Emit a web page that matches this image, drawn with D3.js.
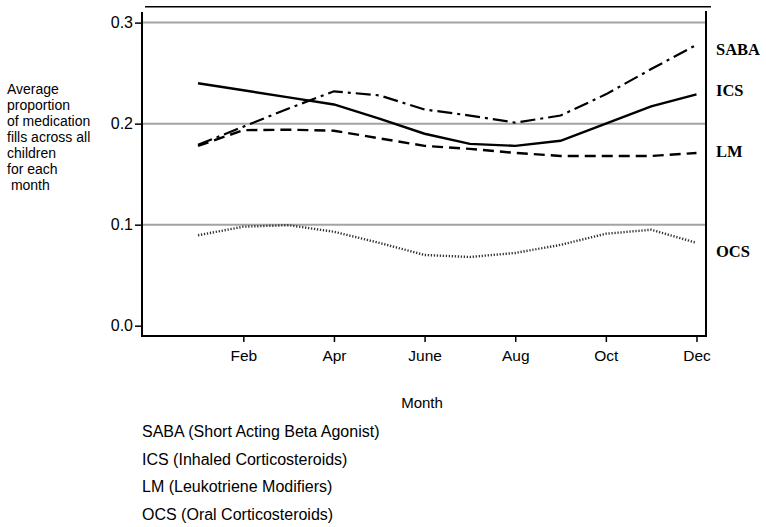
<!DOCTYPE html>
<html><head><meta charset="utf-8">
<script src="https://cdn.jsdelivr.net/npm/d3@7"></script>
<style>body{margin:0;background:#fff}svg{display:block}</style>
</head><body>
<svg id="c" width="766" height="527"></svg>
<script>
const months = [1,2,3,4,5,6,7,8,9,10,11,12];
const monthTicks = [2,4,6,8,10,12];
const monthTickLabels = ["Feb","Apr","June","Aug","Oct","Dec"];
const yTicks = [0,0.1,0.2,0.3];
const gridValues = [0.1,0.2,0.3];
const seriesNames = ["SABA","ICS","LM","OCS"];
const saba = [0.179,0.197,0.215,0.232,0.228,0.214,0.208,0.201,0.208,0.229,0.254,0.278];
const ics  = [0.240,0.233,0.226,0.219,0.205,0.190,0.180,0.178,0.183,0.200,0.217,0.229];
const lm   = [0.178,0.1935,0.194,0.193,0.1855,0.178,0.175,0.171,0.168,0.168,0.168,0.171];
const ocs  = [0.0895,0.098,0.0995,0.093,0.082,0.070,0.068,0.072,0.080,0.091,0.095,0.082];
const legendLines = ["SABA (Short Acting Beta Agonist)","ICS (Inhaled Corticosteroids)","LM (Leukotriene Modifiers)","OCS (Oral Corticosteroids)"];
const yTitleLines = ["Average","proportion","of medication","fills across all","children","for each","\u00a0month"];

const svg = d3.select("#c");
const x = d3.scaleLinear().domain([-0.236,12.21]).range([142,706]);
const y = d3.scaleLinear().domain([-0.0102,0.3105]).range([336,12]);
const sans = "'Liberation Sans', Arial, sans-serif";
const serif = "'Liberation Serif', 'Times New Roman', serif";

// gridlines
svg.append("g").selectAll("line").data(gridValues).join("line")
  .attr("x1", x.range()[0]).attr("x2", x.range()[1])
  .attr("y1", d=>y(d)).attr("y2", d=>y(d))
  .attr("stroke","#a3a3a3").attr("stroke-width",2);

// top line
svg.append("line").attr("x1",145).attr("x2",711).attr("y1",6.7).attr("y2",6.7)
  .attr("stroke","#000").attr("stroke-width",1.6);

// axes
const yAxis = svg.append("g").attr("transform",`translate(${x.range()[0]},0)`)
  .call(d3.axisLeft(y).tickValues(yTicks).tickFormat(d3.format(".1f")).tickSize(7).tickPadding(2));
yAxis.select(".domain").remove();
yAxis.selectAll("line").attr("stroke","#000").attr("stroke-width",1.5);
yAxis.selectAll("text").attr("font-family",sans).attr("font-size",16).attr("fill","#000");

const xAxis = svg.append("g").attr("transform",`translate(0,${y.range()[0]})`)
  .call(d3.axisBottom(x).tickValues(monthTicks).tickFormat((d,i)=>monthTickLabels[i]).tickSize(6).tickPadding(8));
xAxis.select(".domain").remove();
xAxis.selectAll("line").attr("stroke","#000").attr("stroke-width",1.5);
xAxis.selectAll("text").attr("font-family",sans).attr("font-size",15.5).attr("fill","#000");

// frame lines (left, bottom, right)
svg.append("path")
  .attr("d",`M${x.range()[0]},${y.range()[1]}V${y.range()[0]}H${x.range()[1]}V${y.range()[1]-1}`)
  .attr("fill","none").attr("stroke","#000").attr("stroke-width",2);

// series
const line = d3.line().x((d,i)=>x(months[i])).y(d=>y(d)).curve(d3.curveLinear);
const styles = [
  {data:saba, dash:"15,5,3,5", w:2.2, c:"#000"},
  {data:ics,  dash:null, w:2.4, c:"#000"},
  {data:lm,   dash:"11,6", w:2.4, c:"#000"},
  {data:ocs,  dash:"1.3,1.7", w:2.4, c:"#333"}
];
styles.forEach(s=>{
  svg.append("path").datum(s.data).attr("d",line)
    .attr("fill","none").attr("stroke",s.c).attr("stroke-width",s.w)
    .attr("stroke-dasharray",s.dash);
});

// right labels
const labelY = [55,95.7,156.7,257.3];
svg.append("g").selectAll("text").data(seriesNames).join("text")
  .attr("x",716).attr("y",(d,i)=>labelY[i])
  .attr("font-family",serif).attr("font-weight","bold").attr("font-size",16.5).attr("fill","#000")
  .text(d=>d);

// y title
svg.append("g").selectAll("text").data(yTitleLines).join("text")
  .attr("x",7).attr("y",(d,i)=>94+i*16)
  .attr("font-family",sans).attr("font-size",14).attr("fill","#000")
  .text(d=>d);

// x title
svg.append("text").attr("x",422).attr("y",408).attr("text-anchor","middle")
  .attr("font-family",sans).attr("font-size",15).attr("fill","#000").text("Month");

// legend text
svg.append("g").selectAll("text").data(legendLines).join("text")
  .attr("x",142).attr("y",(d,i)=>437+i*27.7)
  .attr("font-family",sans).attr("font-size",16).attr("fill","#000")
  .text(d=>d);
</script>
</body></html>
